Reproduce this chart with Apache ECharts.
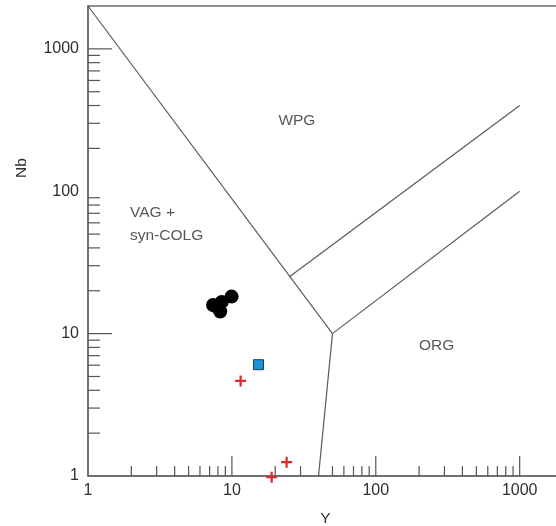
<!DOCTYPE html>
<html>
<head>
<meta charset="utf-8">
<script src="https://cdn.jsdelivr.net/npm/echarts@6/dist/echarts.min.js"></script>
<style>
html, body { margin: 0; padding: 0; background: #fff; }
#chart { width: 556px; height: 526px; }
</style>
</head>
<body>
<div id="chart"></div>
<script>
// samples
var circles = [[9.95, 18.2], [8.5, 16.7], [7.8, 15.5], [8.3, 14.3], [7.4, 15.9]];
var squares = [[15.3, 6.05]];
var crosses = [[11.5, 4.65], [18.9, 0.98], [24, 1.25]];

// field boundaries (Y, Nb)
var vagLine = [[1, 2000], [50, 10]];
var orgLine = [[50, 10], [1000, 100]];
var orgVagLine = [[50, 10], [40, 1]];
var wpgLine = [[25, 25], [1000, 400]];

// field names and where they sit
var fieldLabels = [
    { name: 'WPG', value: [28.3, 311] },
    { name: 'ORG', value: [265, 8.2] }
];
var vagLabel = [{ name: 'VAG +\nsyn-COLG', value: [1.96, 59] }];

// tick values
var axisLabels = [1, 10, 100, 1000];
var xMajorTicks = [10, 100, 1000];
var xMinorTicks = [2, 3, 4, 5, 6, 7, 8, 9, 20, 30, 50, 60, 70, 80, 90, 200, 300, 400, 500, 600, 700, 800, 900];
var yMajorTicks = [10, 1000];
var yMinorTicks = [2, 3, 4, 5, 6, 7, 8, 9, 20, 30, 40, 50, 60, 70, 80, 90, 200, 300, 400, 500, 600, 700, 800, 900];

var font = '"Liberation Sans", Arial, sans-serif';
var lineColor = '#5a5a5a';
var textColor = '#2e2e2e';

var tickData = [];
xMajorTicks.forEach(function (v) { tickData.push([v, 1, 20, 0]); });
xMinorTicks.forEach(function (v) { tickData.push([v, 1, 10, 0]); });
yMajorTicks.forEach(function (v) { tickData.push([1, v, 24, 1]); });
yMinorTicks.forEach(function (v) { tickData.push([1, v, 12, 1]); });

function tickLabel(v) {
    var r = Math.round(v);
    return axisLabels.indexOf(r) >= 0 ? String(r) : '';
}

function boundary(data) {
    return {
        type: 'line',
        data: data,
        showSymbol: false,
        symbol: 'none',
        silent: true,
        lineStyle: { color: lineColor, width: 1.2 },
        z: 2
    };
}

var chart = echarts.init(document.getElementById('chart'));
var options = {
    animation: false,
    grid: {
        left: 88,
        top: 6,
        width: 475,
        height: 470,
        show: true,
        borderColor: '#6a6a6a',
        borderWidth: 1.5,
        containLabel: false,
        outerBoundsMode: 'none'
    },
    xAxis: {
        type: 'log',
        logBase: 10,
        min: 1,
        max: 2000,
        name: 'Y',
        nameLocation: 'middle',
        nameGap: 35,
        nameTextStyle: { fontFamily: font, fontSize: 15.5, color: textColor },
        axisLine: { lineStyle: { color: '#6a6a6a', width: 1.5 } },
        axisTick: { show: false },
        splitLine: { show: false },
        axisLabel: { fontFamily: font, fontSize: 16, color: textColor, margin: 7, showMaxLabel: false, formatter: tickLabel }
    },
    yAxis: {
        type: 'log',
        logBase: 10,
        min: 1,
        max: 2000,
        axisLine: { lineStyle: { color: '#6a6a6a', width: 1.5 } },
        axisTick: { show: false },
        splitLine: { show: false },
        axisLabel: { fontFamily: font, fontSize: 16, color: textColor, margin: 9, showMaxLabel: false, formatter: tickLabel }
    },
    graphic: [{
        type: 'text',
        x: 22,
        y: 168,
        rotation: Math.PI / 2,
        style: {
            text: 'Nb',
            font: '15.5px ' + font,
            fill: textColor,
            align: 'center',
            verticalAlign: 'middle'
        }
    }],
    series: [
        {
            type: 'custom',
            silent: true,
            clip: false,
            data: tickData,
            renderItem: function (params, api) {
                var p = api.coord([api.value(0), api.value(1)]);
                var len = api.value(2);
                var shape = api.value(3) === 0
                    ? { x1: p[0], y1: p[1], x2: p[0], y2: p[1] - len }
                    : { x1: p[0], y1: p[1], x2: p[0] + len, y2: p[1] };
                return {
                    type: 'line',
                    shape: shape,
                    style: { stroke: '#555', lineWidth: 1.2 }
                };
            },
            z: 3
        },
        boundary(vagLine),
        boundary(orgLine),
        boundary(orgVagLine),
        boundary(wpgLine),
        {
            type: 'scatter',
            data: fieldLabels,
            symbolSize: 0,
            silent: true,
            label: {
                show: true,
                position: 'inside',
                formatter: '{b}',
                fontFamily: font,
                fontSize: 15.5,
                color: textColor
            }
        },
        {
            type: 'scatter',
            data: vagLabel,
            symbolSize: 0,
            silent: true,
            label: {
                show: true,
                position: 'right',
                distance: 0,
                formatter: '{b}',
                fontFamily: font,
                fontSize: 15.5,
                lineHeight: 23,
                color: textColor
            }
        },
        {
            type: 'scatter',
            data: circles,
            symbol: 'circle',
            symbolSize: 14,
            itemStyle: { color: '#000', opacity: 1 },
            z: 5
        },
        {
            type: 'scatter',
            data: squares,
            symbol: 'rect',
            symbolSize: 10,
            itemStyle: { color: '#1a93d4', borderColor: '#1d3b55', borderWidth: 1, opacity: 1 },
            z: 5
        },
        {
            type: 'scatter',
            data: crosses,
            clip: false,
            symbol: 'path://M4,0H6V4H10V6H6V10H4V6H0V4H4Z',
            symbolSize: 11,
            itemStyle: { color: '#e02828', opacity: 1 },
            z: 6
        }
    ]
};
chart.setOption(options);
</script>
</body>
</html>
